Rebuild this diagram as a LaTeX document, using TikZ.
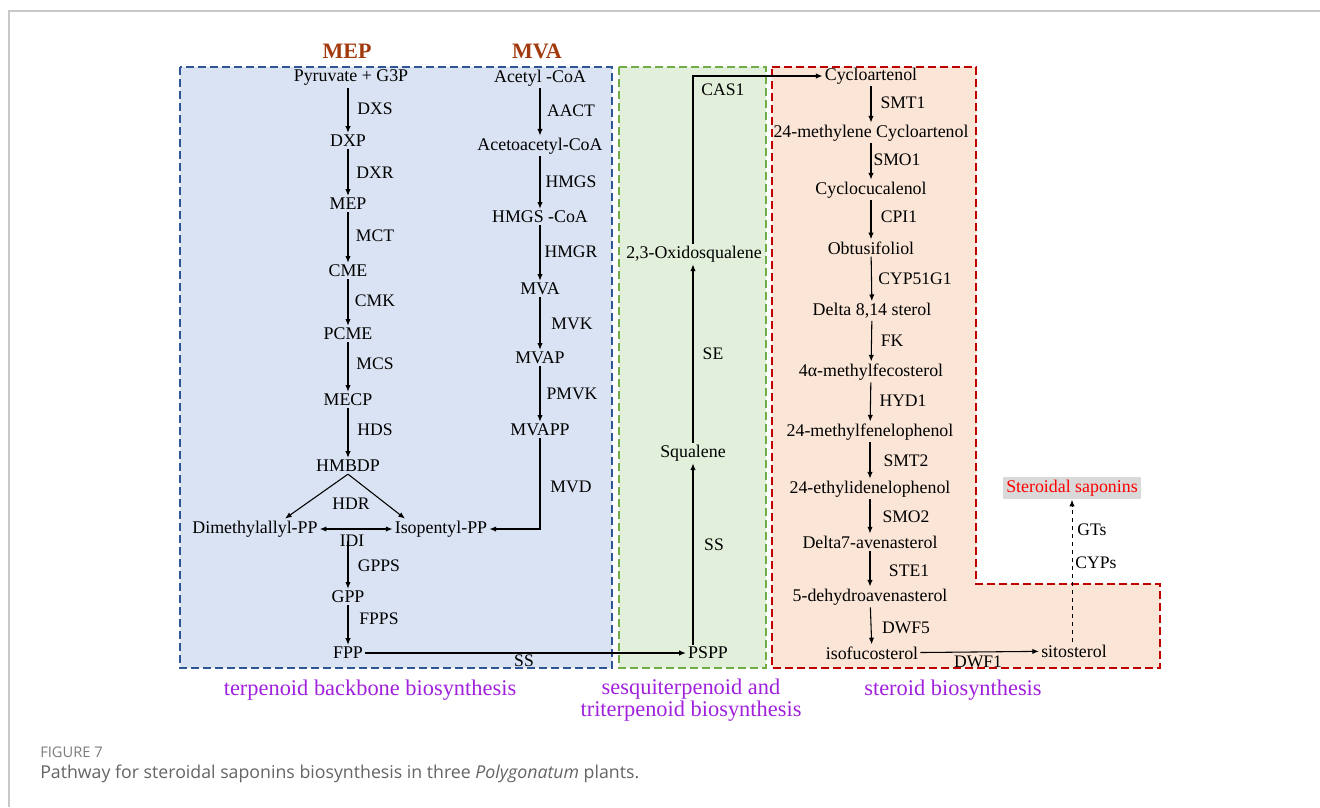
\documentclass[tikz,border=0pt]{standalone}
\usepackage{fontspec}
\setmainfont{Liberation Serif}
\newfontfamily\capfont{Open Sans}
\usetikzlibrary{arrows.meta}
\usetikzlibrary{positioning}

\definecolor{mepbrown}{RGB}{163,58,13}
\definecolor{partpurple}{RGB}{160,32,220}
\definecolor{blueline}{RGB}{47,85,151}
\definecolor{bluefill}{RGB}{218,227,243}
\definecolor{greenline}{RGB}{112,173,71}
\definecolor{greenfill}{RGB}{226,239,218}
\definecolor{redline}{RGB}{192,0,0}
\definecolor{redfill}{RGB}{251,229,214}
\definecolor{sapgray}{RGB}{217,217,217}
\definecolor{framegray}{RGB}{200,200,200}
\definecolor{capgray}{RGB}{100,100,100}

\begin{document}
\begin{tikzpicture}[
    x=0.75pt, y=-0.75pt,
    comp/.style={inner sep=1.5pt, font=\fontsize{13.4}{15}\selectfont},
    enz/.style={inner sep=1pt, font=\fontsize{13.2}{15}\selectfont},
    title/.style={font=\fontsize{16.5}{19}\selectfont\bfseries, text=mepbrown},
    part/.style={font=\fontsize{16.8}{19}\selectfont, text=partpurple, align=center},
    flow/.style={-{Latex[length=5pt, width=4pt]}, line width=0.8pt},
    region/.style={line width=1.6pt, dash pattern=on 6pt off 3pt},
    >=Latex
]
\useasboundingbox (0,0) rectangle (1320,807);

% --- Frame ---
\draw[framegray, line width=1pt] (9,807) -- (9,11) -- (1320,11);

% --- Regions ---
\draw[region, draw=blueline, fill=bluefill] (180,67) rectangle (612,668);
\draw[region, draw=greenline, fill=greenfill] (619,67) rectangle (766,668);
\draw[region, draw=redline, fill=redfill]
    (772,67) -- (976,67) -- (976,584) -- (1160,584) -- (1160,668) -- (772,668) -- cycle;

% --- Titles ---
\node[title] (t-mep) at (347,51) {MEP};
\node[title] (t-mva) at (537,51) {MVA};

% --- MEP pathway ---
\node[comp] (pyr)   at (351,78)  {Pyruvate + G3P};
\node[comp] (dxp)   at (348,141) {DXP};
\node[comp] (mep)   at (348,204) {MEP};
\node[comp] (cme)   at (348,271) {CME};
\node[comp] (pcme)  at (348,334) {PCME};
\node[comp] (mecp)  at (348,400) {MECP};
\node[comp] (hmbdp) at (348,466) {HMBDP};
\node[comp] (dmapp) at (255,529) {Dimethylallyl-PP};
\node[comp] (ipp)   at (441,529) {Isopentyl-PP};
\node[comp] (gpp)   at (348,597) {GPP};
\node[comp] (fpp)   at (348,653) {FPP};

\node[enz] (e-dxs)  at (375,109) {DXS};
\node[enz] (e-dxr)  at (375,173) {DXR};
\node[enz] (e-mct)  at (375,236) {MCT};
\node[enz] (e-cmk)  at (375,301) {CMK};
\node[enz] (e-mcs)  at (375,364) {MCS};
\node[enz] (e-hds)  at (375,430) {HDS};
\node[enz] (e-hdr)  at (351,504) {HDR};
\node[enz] (e-idi)  at (352,541) {IDI};
\node[enz] (e-gpps) at (379,566) {GPPS};
\node[enz] (e-fpps) at (379,619) {FPPS};

% --- MVA pathway ---
\node[comp] (acoa)   at (540,78)  {Acetyl -CoA};
\node[comp] (aacoa)  at (540,146) {Acetoacetyl-CoA};
\node[comp] (hmgcoa) at (540,217) {HMGS -CoA};
\node[comp] (mva)    at (540,289) {MVA};
\node[comp] (mvap)   at (540,358) {MVAP};
\node[comp] (mvapp)  at (540,430) {MVAPP};

\node[enz] (e-aact) at (571,111) {AACT};
\node[enz] (e-hmgs) at (571,182) {HMGS};
\node[enz] (e-hmgr) at (571,252) {HMGR};
\node[enz] (e-mvk)  at (572,324) {MVK};
\node[enz] (e-pmvk) at (572,394) {PMVK};
\node[enz] (e-mvd)  at (571,487) {MVD};

% --- Triterpenoid part ---
\node[comp] (pspp) at (708,653) {PSPP};
\node[comp] (sq)   at (693,453) {Squalene};
\node[comp] (oxsq) at (694,254) {2,3-Oxidosqualene};

\node[enz] (e-ss1)  at (524,661) {SS};
\node[enz] (e-ss2)  at (714,545) {SS};
\node[enz] (e-se)   at (713,354) {SE};
\node[enz] (e-cas1) at (723,90)  {CAS1};

% --- Steroid part ---
\node[comp] (cyc)  at (871,76)  {Cycloartenol};
\node[comp] (mcyc) at (871,133) {24-methylene Cycloartenol};
\node[comp] (ccl)  at (871,190) {Cyclocucalenol};
\node[comp] (obt)  at (871,248) {Obtusifoliol};
\node[comp] (d814) at (872,311) {Delta 8,14 sterol};
\node[comp] (mfec) at (871,372) {4α-methylfecosterol};
\node[comp] (mfen) at (870,432) {24-methylfenelophenol};
\node[comp] (eth)  at (870,489) {24-ethylidenelophenol};
\node[comp] (d7av) at (870,542) {Delta7-avenasterol};
\node[comp] (dhav) at (870,597) {5-dehydroavenasterol};
\node[comp] (isof) at (872,653) {isofucosterol};
\node[comp] (sito) at (1074,651) {sitosterol};
\node[comp, fill=sapgray, text=red, inner sep=2.5pt] (sap) at (1072,488) {Steroidal saponins};

\node[enz] (e-smt1)  at (903,103) {SMT1};
\node[enz] (e-smo1)  at (897,160) {SMO1};
\node[enz] (e-cpi1)  at (899,217) {CPI1};
\node[enz] (e-cyp51) at (915,279) {CYP51G1};
\node[enz] (e-fk)    at (892,341) {FK};
\node[enz] (e-hyd1)  at (903,401) {HYD1};
\node[enz] (e-smt2)  at (906,461) {SMT2};
\node[enz] (e-smo2)  at (906,517) {SMO2};
\node[enz] (e-ste1)  at (909,571) {STE1};
\node[enz] (e-dwf5)  at (906,628) {DWF5};
\node[enz] (e-dwf1)  at (978,662) {DWF1};
\node[enz] (e-gts)   at (1092,530) {GTs};
\node[enz] (e-cyps)  at (1096,563) {CYPs};

% --- Part labels ---
\node[part] (p-tb) at (370,690) {terpenoid backbone biosynthesis};
\node[part] (p-st) at (691,700) {sesquiterpenoid and\\[-3pt]triterpenoid biosynthesis};
\node[part] (p-sb) at (953,690) {steroid biosynthesis};

% --- Vertical chains ---
\foreach \a/\b in {dxp/mep, mep/cme, cme/pcme, pcme/mecp, mecp/hmbdp,
                   acoa/aacoa, aacoa/hmgcoa, hmgcoa/mva, mva/mvap, mvap/mvapp,
                   cyc/mcyc, mcyc/ccl, ccl/obt, obt/d814, d814/mfec, mfec/mfen,
                   mfen/eth, eth/d7av, d7av/dhav, dhav/isof, gpp/fpp}
{
    \draw[flow] (\a) -- (\b);
}
\draw[flow] (dxp |- pyr.south) -- (dxp);

% --- Branches ---
\draw[flow] (hmbdp.south) -- ([xshift=22.5pt]dmapp.north);
\draw[flow] (hmbdp.south) -- ([xshift=-27pt]ipp.north);
\draw[{Latex[length=5pt, width=4pt]}-{Latex[length=5pt, width=4pt]}, line width=0.8pt] (dmapp) -- (ipp);
\draw[flow] (mvapp.south) |- (ipp.east);
\draw[flow] (gpp |- e-idi.center) -- (gpp);

% --- Cross-region connectors ---
\draw[flow] (fpp) -- (pspp);
\draw[flow] (sq.south |- pspp.north) -- (sq);
\draw[flow] (sq) -- (sq |- oxsq.south);
\draw[flow] (sq |- oxsq.north) |- (cyc.west);
\draw[flow] (isof) -- (sito);
\draw[flow, dashed, line width=0.7pt] (sap.south |- sito.north) -- (sap.south);

% --- Caption ---
\node[anchor=west, inner sep=0pt, text=capgray!85, font=\capfont\fontsize{11}{13}\selectfont] (fig) at (40,752) {FIGURE 7};
\node[anchor=west, inner sep=0pt, text=capgray, font=\capfont\fontsize{13.3}{16}\selectfont] (cap) at (40,774)
    {Pathway for steroidal saponins biosynthesis in three \textit{Polygonatum} plants.};

\end{tikzpicture}
\end{document}
